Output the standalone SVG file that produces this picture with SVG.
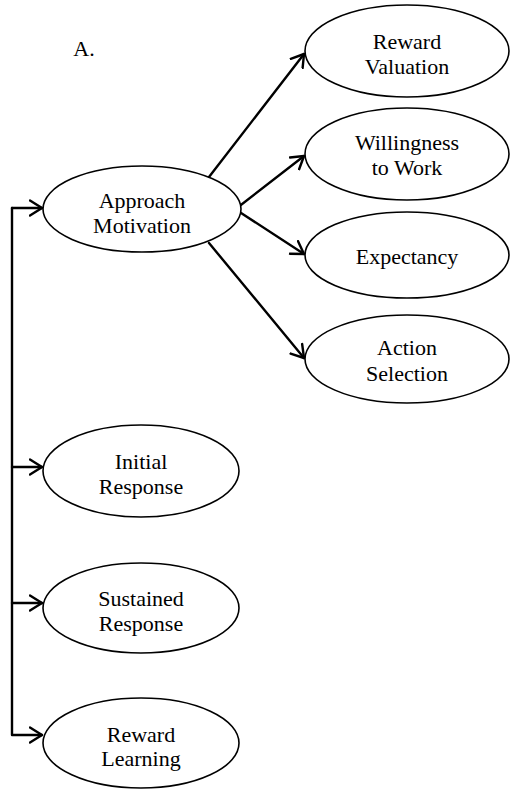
<svg xmlns="http://www.w3.org/2000/svg" width="510" height="793" viewBox="0 0 510 793">
<style>
.node ellipse{fill:#fff;stroke:#000;stroke-width:1.6}
text{font-family:"Liberation Serif","Times New Roman",serif;font-size:22px;fill:#000;text-anchor:middle}
.conn path,.conn line{fill:none;stroke:#000;stroke-width:2.4;stroke-linejoin:round;stroke-linecap:round}
</style>
<defs>
<marker id="arr" markerUnits="userSpaceOnUse" markerWidth="16" markerHeight="18" refX="13" refY="9" orient="auto" viewBox="0 0 16 18">
<path d="M1,1.5 L13,9 L1,16.5" fill="none" stroke="#000" stroke-width="2.4" stroke-linecap="round" stroke-linejoin="round"/>
</marker>
</defs>
<rect width="510" height="793" fill="#fff"/>
<text x="84" y="56">A.</text>
<g class="conn">
<path d="M12,208 L12,735 L42,735" marker-end="url(#arr)"/>
<path d="M12,208 L42,208" marker-end="url(#arr)"/>
<path d="M12,467 L42,467" marker-end="url(#arr)"/>
<path d="M12,603 L42,603" marker-end="url(#arr)"/>
<line x1="209" y1="177" x2="304" y2="54" marker-end="url(#arr)"/>
<line x1="237" y1="208" x2="304" y2="156" marker-end="url(#arr)"/>
<line x1="238" y1="211" x2="304" y2="254" marker-end="url(#arr)"/>
<line x1="209" y1="243" x2="304" y2="358" marker-end="url(#arr)"/>
</g>
<g id="approach" class="node"><ellipse cx="142" cy="209" rx="99" ry="43"/><text x="142" y="208">Approach</text><text x="142" y="233">Motivation</text></g>
<g id="reward-valuation" class="node"><ellipse cx="407" cy="51" rx="102" ry="46"/><text x="407" y="49">Reward</text><text x="407" y="74">Valuation</text></g>
<g id="willingness" class="node"><ellipse cx="407" cy="154" rx="102" ry="46"/><text x="407" y="150">Willingness</text><text x="407" y="175">to Work</text></g>
<g id="expectancy" class="node"><ellipse cx="407" cy="255" rx="102" ry="43"/><text x="407" y="264">Expectancy</text></g>
<g id="action-selection" class="node"><ellipse cx="407" cy="359" rx="102" ry="44"/><text x="407" y="355">Action</text><text x="407" y="381">Selection</text></g>
<g id="initial-response" class="node"><ellipse cx="141" cy="471" rx="98" ry="46"/><text x="141" y="469">Initial</text><text x="141" y="494">Response</text></g>
<g id="sustained-response" class="node"><ellipse cx="141" cy="608" rx="98" ry="45"/><text x="141" y="606">Sustained</text><text x="141" y="631">Response</text></g>
<g id="reward-learning" class="node"><ellipse cx="141" cy="743" rx="98" ry="45"/><text x="141" y="742">Reward</text><text x="141" y="766">Learning</text></g>
</svg>
